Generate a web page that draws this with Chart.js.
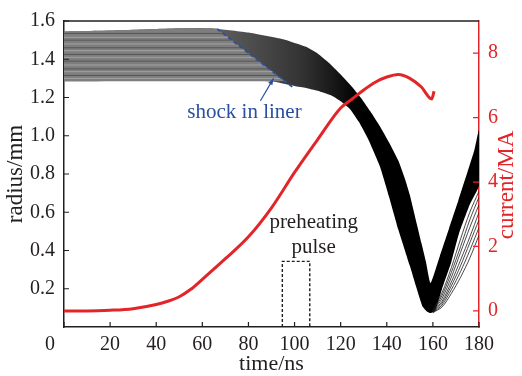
<!DOCTYPE html>
<html>
<head>
<meta charset="utf-8">
<script src="https://cdn.jsdelivr.net/npm/chart.js@4.4.1/dist/chart.umd.min.js"></script>
<style>
  html, body { margin: 0; padding: 0; background: #fff; }
  #wrap { width: 522px; height: 376px; }
</style>
</head>
<body>
<div id="wrap"><canvas id="grafica"></canvas></div>
<script>
// drive current (MA) against time (ns)
const tCurrent = [0, 10, 20, 30, 40, 45, 50, 55, 60, 70, 80, 90, 100, 110, 120, 125, 130, 135, 140, 145, 150, 155, 159.5, 160.5];
const current  = [0, 0, 0.02, 0.07, 0.2, 0.3, 0.44, 0.67, 0.98, 1.62, 2.3, 3.2, 4.3, 5.32, 6.3, 6.58, 6.86, 7.1, 7.26, 7.34, 7.22, 6.95, 6.58, 6.82];

// upper envelope of the liner cell trajectories (mm)
const tTop = [0, 20, 40, 55, 66, 80, 95, 105, 110, 115, 120, 125, 129, 133, 137, 141, 145, 148, 150, 152, 155, 157, 159, 163, 167, 171, 175, 178, 180];
const rTop = [1.545, 1.55, 1.558, 1.563, 1.56, 1.54, 1.505, 1.465, 1.43, 1.38, 1.32, 1.255, 1.195, 1.125, 1.05, 0.965, 0.87, 0.77, 0.69, 0.59, 0.44, 0.34, 0.23, 0.37, 0.515, 0.66, 0.81, 0.925, 1.03];

// lower edge of the dense part of the trajectory band (mm)
const tBot = [0, 90, 96, 100, 105, 110, 116, 120, 124, 128, 132, 137, 141, 145, 150, 153, 155.5, 157.5, 159, 161, 164, 168, 171.3, 176, 180];
const rBot = [1.285, 1.285, 1.27, 1.26, 1.25, 1.235, 1.21, 1.18, 1.14, 1.07, 0.98, 0.84, 0.68, 0.51, 0.32, 0.2, 0.107, 0.08, 0.073, 0.085, 0.2, 0.34, 0.487, 0.64, 0.74];

// unshocked part of the liner, bounded by the shock front
const tFlat = [0, 20, 40, 55, 66.4, 95.8, 0];
const rFlat = [1.545, 1.55, 1.558, 1.563, 1.559, 1.285, 1.285];

// cell radii still at rest, and the time the shock reaches each
const stripeR   = [1.3, 1.315, 1.335, 1.35, 1.37, 1.39, 1.41, 1.425, 1.445, 1.46, 1.48, 1.5, 1.515, 1.535];
const stripeEnd = [94.2, 92.6, 90.5, 88.8, 86.7, 84.5, 82.4, 80.8, 78.6, 77.0, 74.9, 72.7, 71.1, 69.0];

// outer cells after stagnation, fanning out on the rebound
const tFan = [160, 164, 168, 172, 176, 180];
const fan = [
  [0.075, 0.105, 0.175, 0.26, 0.36, 0.48],
  [0.076, 0.115, 0.195, 0.29, 0.40, 0.52],
  [0.078, 0.125, 0.215, 0.32, 0.44, 0.56],
  [0.080, 0.135, 0.235, 0.35, 0.47, 0.60],
  [0.082, 0.150, 0.260, 0.39, 0.52, 0.64],
  [0.084, 0.165, 0.285, 0.42, 0.56, 0.68],
  [0.086, 0.180, 0.310, 0.46, 0.60, 0.71]
];

// shock front in the liner
const tShock = [66.4, 99.6];
const rShock = [1.559, 1.25];

// preheating pulse window
const tPulse = [94.7, 94.7, 106.6, 106.6];
const rPulse = [0, 0.343, 0.343, 0];

const xTicks = [0, 20, 40, 60, 80, 100, 120, 140, 160, 180];
const radiusTicks = [0.2, 0.4, 0.6, 0.8, 1.0, 1.2, 1.4, 1.6];
const currentTicks = [0, 2, 4, 6, 8];

const ROJO = 'rgb(225, 37, 40)';
const TINTA = '#231f20';
const AZUL = 'rgb(43, 79, 160)';
const SERIF = "'Liberation Serif', serif";

const pts = (xs, ys) => xs.map((v, i) => ({ x: v, y: ys[i] }));

function bandShade(context) {
  const { ctx, chartArea, scales } = context.chart;
  if (!chartArea) return '#000';
  const g = ctx.createLinearGradient(scales.x.getPixelForValue(66), 0, scales.x.getPixelForValue(130), 0);
  g.addColorStop(0, '#5e5e5e');
  g.addColorStop(0.23, '#4e4e4e');
  g.addColorStop(0.58, '#333');
  g.addColorStop(0.78, '#1a1a1a');
  g.addColorStop(0.92, '#060606');
  g.addColorStop(1, '#000');
  return g;
}

const datasets = [];

datasets.push({
  data: pts(tCurrent, current), yAxisID: 'y2',
  borderColor: ROJO, borderWidth: 3, cubicInterpolationMode: 'monotone', order: 1
});
datasets.push({
  data: pts(tShock, rShock), borderColor: AZUL, borderWidth: 1.8, borderDash: [4, 3], order: 2
});
datasets.push({
  data: pts(tPulse, rPulse), borderColor: TINTA, borderWidth: 1.4, borderDash: [3, 2], order: 2
});
fan.forEach(r => datasets.push({
  data: pts(tFan, r), borderColor: '#1a1a1a', borderWidth: 0.8, tension: 0.3, order: 5
}));
stripeR.forEach((r, i) => datasets.push({
  data: pts([0, stripeEnd[i]], [r, r]), borderColor: i % 2 ? '#565656' : '#a3a3a3', borderWidth: 1, order: 6
}));
datasets.push({
  data: pts(tFlat, rFlat), fill: 'shape', backgroundColor: '#7e7e7e', borderWidth: 0, order: 7
});
datasets.push({
  data: pts(tTop, rTop).concat(pts(tBot, rBot).reverse()),
  fill: 'shape', backgroundColor: bandShade, borderWidth: 0, tension: 0.15, order: 8
});

const decor = {
  id: 'decor',
  afterDatasetsDraw(chart) {
    const { ctx, chartArea: a, scales: { x, y, y2 } } = chart;
    ctx.save();
    // top frame
    ctx.strokeStyle = TINTA;
    ctx.lineWidth = 1.5;
    ctx.beginPath();
    ctx.moveTo(a.left, a.top);
    ctx.lineTo(a.right, a.top);
    ctx.stroke();
    // inward tick marks
    ctx.lineWidth = 1.2;
    ctx.beginPath();
    xTicks.forEach(v => {
      const px = x.getPixelForValue(v);
      ctx.moveTo(px, a.bottom); ctx.lineTo(px, a.bottom - 5);
    });
    radiusTicks.forEach(v => {
      const py = y.getPixelForValue(v);
      ctx.moveTo(a.left, py); ctx.lineTo(a.left + 5, py);
    });
    ctx.stroke();
    ctx.strokeStyle = ROJO;
    ctx.beginPath();
    currentTicks.forEach(v => {
      const py = y2.getPixelForValue(v);
      ctx.moveTo(a.right, py); ctx.lineTo(a.right - 6, py);
    });
    ctx.stroke();

    // corner zero
    ctx.fillStyle = TINTA;
    ctx.font = '20px ' + SERIF;
    ctx.textAlign = 'center';
    ctx.textBaseline = 'middle';
    ctx.fillText('0', a.left - 14, a.bottom + 18);

    // shock label and arrow
    ctx.fillStyle = AZUL;
    ctx.strokeStyle = AZUL;
    ctx.font = '21px ' + SERIF;
    ctx.fillText('shock in liner', x.getPixelForValue(78.3), y.getPixelForValue(1.121));
    const x0 = x.getPixelForValue(85.2), y0 = y.getPixelForValue(1.183);
    const x1 = x.getPixelForValue(90.9), y1 = y.getPixelForValue(1.30);
    ctx.lineWidth = 1.2;
    ctx.beginPath();
    ctx.moveTo(x0, y0); ctx.lineTo(x1, y1);
    ctx.stroke();
    const ang = Math.atan2(y1 - y0, x1 - x0);
    ctx.beginPath();
    ctx.moveTo(x1, y1);
    ctx.lineTo(x1 - 7 * Math.cos(ang - 0.35), y1 - 7 * Math.sin(ang - 0.35));
    ctx.lineTo(x1 - 7 * Math.cos(ang + 0.35), y1 - 7 * Math.sin(ang + 0.35));
    ctx.closePath();
    ctx.fill();

    // pulse label
    ctx.fillStyle = TINTA;
    ctx.fillText('preheating', x.getPixelForValue(108.3), y.getPixelForValue(0.544));
    ctx.fillText('pulse', x.getPixelForValue(108.3), y.getPixelForValue(0.415));

    // right axis title, reading upwards
    ctx.fillStyle = ROJO;
    ctx.font = '23px ' + SERIF;
    ctx.translate(507, 185);
    ctx.rotate(-Math.PI / 2);
    ctx.fillText('current/MA', 0, 0);
    ctx.restore();
  }
};

const ctx = document.getElementById('grafica').getContext('2d');
new Chart(ctx, {
  type: 'line',
  data: { datasets },
  options: {
    responsive: true,
    maintainAspectRatio: false,
    animation: false,
    devicePixelRatio: 1,
    layout: { padding: { top: 17, left: 0, right: 0, bottom: 0 } },
    elements: { point: { radius: 0 }, line: { fill: false } },
    plugins: { legend: { display: false }, tooltip: { enabled: false } },
    scales: {
      x: {
        type: 'linear', min: 0, max: 180,
        afterBuildTicks: s => { s.ticks = xTicks.map(v => ({ value: v })); },
        afterFit: s => { s.height = 49; },
        grid: { display: false, drawTicks: false },
        border: { color: TINTA, width: 1.5 },
        ticks: { color: TINTA, font: { family: SERIF, size: 20 }, padding: 6, maxRotation: 0,
                 callback: v => (v === 0 ? '' : v) },
        title: { display: true, text: 'time/ns', color: TINTA, font: { family: SERIF, size: 22 },
                 padding: { top: 0, bottom: -1 } }
      },
      y: {
        position: 'left', min: 0, max: 1.6,
        afterBuildTicks: s => { s.ticks = radiusTicks.map(v => ({ value: v })); },
        afterFit: s => { s.width = 64; },
        grid: { display: false, drawTicks: false },
        border: { color: TINTA, width: 1.5 },
        ticks: { color: TINTA, font: { family: SERIF, size: 20 }, padding: 9,
                 callback: v => v.toFixed(1) },
        title: { display: true, text: 'radius/mm', color: TINTA, font: { family: SERIF, size: 23 },
                 padding: { top: 2, bottom: 0 } }
      },
      y2: {
        position: 'right', min: -0.5, max: 9,
        afterBuildTicks: s => { s.ticks = currentTicks.map(v => ({ value: v })); },
        afterFit: s => { s.width = 43; },
        grid: { display: false, drawTicks: false },
        border: { color: ROJO, width: 1.5 },
        ticks: { color: ROJO, font: { family: SERIF, size: 20 }, padding: 9 }
      }
    }
  },
  plugins: [decor]
});
</script>
</body>
</html>
